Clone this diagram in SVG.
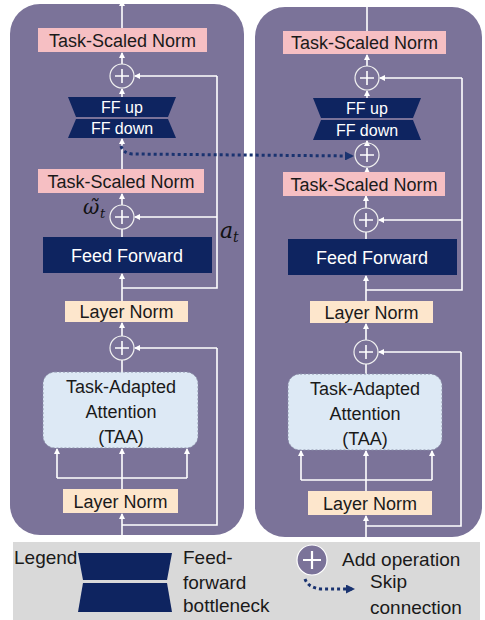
<svg xmlns="http://www.w3.org/2000/svg" width="485" height="620" viewBox="0 0 485 620">
<defs>
<marker id="wa" markerWidth="6" markerHeight="6" refX="5" refY="3" orient="auto" markerUnits="userSpaceOnUse"><path d="M0,0 L6,3 L0,6 Z" fill="#ffffff"/></marker>
<marker id="na" markerWidth="9" markerHeight="9" refX="7" refY="4.5" orient="auto" markerUnits="userSpaceOnUse"><path d="M0,0 L9,4.5 L0,9 Z" fill="#1a3370"/></marker>
<style>
.panel{fill:#7b7399}
.tsn{fill:#f6bfc3}
.ln{fill:#fde6cc}
.navy{fill:#0e2460}
.taa{fill:#dde9f5;stroke:#8a8fa8;stroke-width:1;stroke-dasharray:2 2}
.t{font-family:"Liberation Sans",Arial,sans-serif;font-size:18px;fill:#1a1a1a;text-anchor:middle}
.tw{font-family:"Liberation Sans",Arial,sans-serif;font-size:18px;fill:#ffffff;text-anchor:middle}
.tf{font-family:"Liberation Sans",Arial,sans-serif;font-size:16px;fill:#ffffff;text-anchor:middle}
.lg{font-family:"Liberation Sans",Arial,sans-serif;font-size:19px;fill:#1a1a1a}
.m{font-family:"DejaVu Serif","Liberation Serif",serif;font-style:italic;fill:#111111}
.w{stroke:#ffffff;stroke-width:1.6;fill:none}
.wa{stroke:#ffffff;stroke-width:1.6;fill:none;marker-end:url(#wa)}
.pc{stroke:#f0f0f0;stroke-width:1.2;fill:none}
.dot{stroke:#1a3370;stroke-width:3;fill:none;stroke-dasharray:3 3}
</style>
</defs>

<g id="panels">
<rect class="panel" x="10" y="4" width="234" height="531" rx="30"/>
<rect class="panel" x="255" y="7" width="227" height="530" rx="30"/>
</g>

<g id="connectors">
<!-- left -->
<line class="wa" x1="122" y1="28" x2="122" y2="1"/>
<line class="wa" x1="122" y1="64" x2="122" y2="53"/>
<line class="wa" x1="122" y1="97" x2="122" y2="89"/>
<line class="wa" x1="122" y1="169" x2="122" y2="139"/>
<line class="wa" x1="122" y1="205" x2="122" y2="194"/>
<line class="w" x1="122" y1="237" x2="122" y2="229"/>
<polyline class="w" points="217,76 217,288 122,288"/>
<line class="wa" x1="217" y1="76" x2="135" y2="76"/>
<line class="wa" x1="217" y1="217" x2="135" y2="217"/>
<line class="wa" x1="122" y1="301" x2="122" y2="274"/>
<line class="wa" x1="122" y1="336" x2="122" y2="323"/>
<line class="w" x1="122" y1="372" x2="122" y2="360"/>
<polyline class="w" points="217,348 217,525 122,525"/>
<line class="wa" x1="217" y1="348" x2="135" y2="348"/>
<line class="wa" x1="122" y1="489" x2="122" y2="449"/>
<polyline class="w" points="57,478 187,478"/>
<line class="wa" x1="57" y1="478" x2="57" y2="449"/>
<line class="wa" x1="187" y1="478" x2="187" y2="449"/>
<line class="wa" x1="122" y1="540" x2="122" y2="514"/>
<!-- right -->
<line class="wa" x1="367" y1="31" x2="367" y2="1"/>
<line class="wa" x1="367" y1="66" x2="367" y2="55"/>
<line class="wa" x1="367" y1="98" x2="367" y2="91"/>
<line class="wa" x1="367" y1="143" x2="367" y2="141"/>
<line class="wa" x1="367" y1="172" x2="367" y2="168"/>
<line class="wa" x1="366" y1="208" x2="366" y2="196"/>
<line class="w" x1="366" y1="239" x2="366" y2="232"/>
<polyline class="w" points="462,78 462,290 366,290"/>
<line class="wa" x1="462" y1="78" x2="380" y2="78"/>
<line class="wa" x1="462" y1="220" x2="379" y2="220"/>
<line class="wa" x1="366" y1="301" x2="366" y2="276"/>
<line class="wa" x1="366" y1="340" x2="366" y2="324"/>
<line class="w" x1="366" y1="374" x2="366" y2="364"/>
<polyline class="w" points="461,352 461,526 366,526"/>
<line class="wa" x1="461" y1="352" x2="379" y2="352"/>
<line class="wa" x1="366" y1="491" x2="366" y2="451"/>
<polyline class="w" points="301,480 432,480"/>
<line class="wa" x1="301" y1="480" x2="301" y2="451"/>
<line class="wa" x1="432" y1="480" x2="432" y2="451"/>
<line class="wa" x1="366" y1="540" x2="366" y2="516"/>
<!-- skip -->
<path class="dot" d="M121,146 Q123,153 132,154 L352,156" marker-end="url(#na)"/>
</g>

<g id="left-tsn-top"><rect class="tsn" x="38" y="28" width="169" height="24"/><text class="t" x="122.5" y="46.5">Task-Scaled Norm</text></g>
<g id="left-add-top"><circle class="pc" cx="122" cy="76" r="12"/><path class="w" d="M115,76 H129 M122,69 V83"/></g>
<g id="left-ff-bottleneck">
<polygon class="navy" points="68,97 176,97 168,117 76,117"/>
<polygon class="navy" points="76,119 168,119 176,138 68,138"/>
<text class="tf" x="122" y="113">FF up</text>
<text class="tf" x="122" y="134">FF down</text>
</g>
<g id="left-tsn-mid"><rect class="tsn" x="38" y="169" width="166" height="24"/><text class="t" x="121" y="187.5">Task-Scaled Norm</text></g>
<g id="left-omega"><text class="m" x="83" y="214" font-size="20">ω̃</text><text class="m" x="100" y="218" font-size="13">t</text></g>
<g id="left-add-mid"><circle class="pc" cx="122" cy="217" r="12"/><path class="w" d="M115,217 H129 M122,210 V224"/></g>
<g id="left-at"><text class="m" x="220" y="238" font-size="22">a</text><text class="m" x="233" y="242" font-size="14">t</text></g>
<g id="left-ff"><rect class="navy" x="43" y="237" width="169" height="36"/><text class="tw" x="127" y="261.5">Feed Forward</text></g>
<g id="left-ln-top"><rect class="ln" x="65" y="301" width="123" height="21"/><text class="t" x="126.5" y="318">Layer Norm</text></g>
<g id="left-add-low"><circle class="pc" cx="122" cy="348" r="12"/><path class="w" d="M115,348 H129 M122,341 V355"/></g>
<g id="left-taa"><rect class="taa" x="43" y="372" width="155" height="76" rx="12"/>
<text class="t" x="121" y="393">Task-Adapted</text><text class="t" x="121" y="418">Attention</text><text class="t" x="121" y="443">(TAA)</text></g>
<g id="left-ln-bottom"><rect class="ln" x="63" y="489" width="115" height="24"/><text class="t" x="120.5" y="507.5">Layer Norm</text></g>

<g id="right-tsn-top"><rect class="tsn" x="283" y="31" width="163" height="23"/><text class="t" x="364.5" y="49">Task-Scaled Norm</text></g>
<g id="right-add-top"><circle class="pc" cx="367" cy="78" r="12"/><path class="w" d="M360,78 H374 M367,71 V85"/></g>
<g id="right-ff-bottleneck">
<polygon class="navy" points="313,98 421,98 413,118 321,118"/>
<polygon class="navy" points="321,120 413,120 421,140 313,140"/>
<text class="tf" x="367" y="114">FF up</text>
<text class="tf" x="367" y="136">FF down</text>
</g>
<g id="right-add-skip"><circle class="pc" cx="367" cy="155" r="12"/><path class="w" d="M360,155 H374 M367,148 V162"/></g>
<g id="right-tsn-mid"><rect class="tsn" x="283" y="172" width="162" height="24"/><text class="t" x="364" y="190.5">Task-Scaled Norm</text></g>
<g id="right-add-mid"><circle class="pc" cx="366" cy="220" r="12"/><path class="w" d="M359,220 H373 M366,213 V227"/></g>
<g id="right-ff"><rect class="navy" x="288" y="239" width="169" height="36"/><text class="tw" x="372" y="263.5">Feed Forward</text></g>
<g id="right-ln-top"><rect class="ln" x="310" y="301" width="123" height="22"/><text class="t" x="371.5" y="318.5">Layer Norm</text></g>
<g id="right-add-low"><circle class="pc" cx="366" cy="352" r="12"/><path class="w" d="M359,352 H373 M366,345 V359"/></g>
<g id="right-taa"><rect class="taa" x="288" y="374" width="154" height="76" rx="12"/>
<text class="t" x="365" y="395">Task-Adapted</text><text class="t" x="365" y="420">Attention</text><text class="t" x="365" y="445">(TAA)</text></g>
<g id="right-ln-bottom"><rect class="ln" x="308" y="491" width="124" height="24"/><text class="t" x="370" y="509.5">Layer Norm</text></g>

<g id="legend">
<rect x="13" y="542" width="467" height="78" fill="#d9d9d9"/>
<text class="lg" x="14" y="564">Legend</text>
<polygon class="navy" points="78,553 172,553 167,580 83,580"/>
<polygon class="navy" points="83,583 167,583 172,612 78,612"/>
<text class="lg" x="183" y="564">Feed-</text>
<text class="lg" x="183" y="589">forward</text>
<text class="lg" x="183" y="612">bottleneck</text>
<circle cx="312" cy="560" r="15" fill="#7b7399" stroke="#ffffff" stroke-width="1.2"/>
<path d="M303,560 H321 M312,551 V569" stroke="#ffffff" stroke-width="2.2"/>
<text class="lg" x="342" y="566">Add operation</text>
<path class="dot" d="M305,579 Q308,588 322,589 L353,589" marker-end="url(#na)"/>
<text class="lg" x="370" y="588">Skip</text>
<text class="lg" x="370" y="614">connection</text>
</g>
</svg>
